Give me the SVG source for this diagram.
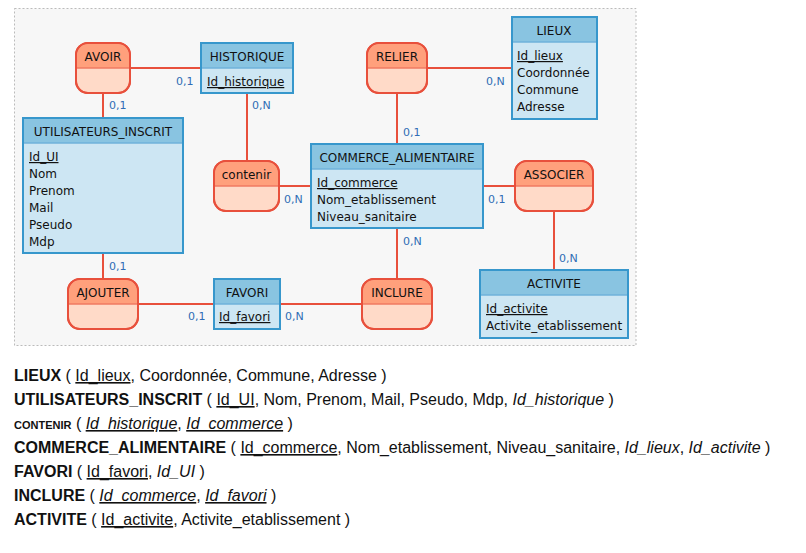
<svg xmlns="http://www.w3.org/2000/svg" width="806" height="553" viewBox="0 0 806 553">
<style>
.bg{fill:#f7f7f7;stroke:#bbbbbb;stroke-width:1;stroke-dasharray:2,2}
.ent{fill:#cde6f3;stroke:#3797cc;stroke-width:2}
.enth{fill:#89c4e1}
.entd{stroke:#6fb2da;stroke-width:1.5}
.asc{fill:#ffdac8;stroke:#e8503c;stroke-width:2}
.asch{fill:#ffa07c}
.ascd{stroke:#f07a62;stroke-width:1.5}
.lnk{stroke:#e8503c;stroke-width:2;fill:none}
.t{font-family:"DejaVu Sans",Verdana,sans-serif;font-size:12px;fill:#111}
.c{text-anchor:middle}
.card{font-family:"DejaVu Sans",Verdana,sans-serif;font-size:11px;fill:#2f6db5}
.u{text-decoration:underline}
.r{font-family:"Liberation Sans",Arial,sans-serif;font-size:16px;fill:#111}
.b{font-weight:bold}
.i{font-style:italic}
</style>
<rect class="bg" x="14.5" y="8.5" width="621.5" height="337"/>
<g id="connectors">
<line class="lnk" x1="130" y1="68" x2="201" y2="68"/>
<line class="lnk" x1="103" y1="93" x2="103" y2="118"/>
<line class="lnk" x1="247" y1="93" x2="247" y2="161"/>
<line class="lnk" x1="279" y1="186" x2="311" y2="186"/>
<line class="lnk" x1="427" y1="68" x2="512" y2="68"/>
<line class="lnk" x1="397" y1="93" x2="397" y2="144"/>
<line class="lnk" x1="483" y1="186" x2="515" y2="186"/>
<line class="lnk" x1="554" y1="211" x2="554" y2="270"/>
<line class="lnk" x1="397" y1="228" x2="397" y2="279"/>
<line class="lnk" x1="280" y1="304" x2="362" y2="304"/>
<line class="lnk" x1="138" y1="304" x2="214" y2="304"/>
<line class="lnk" x1="103" y1="253" x2="103" y2="279"/>
<text class="card" x="176" y="85">0,1</text>
<text class="card" x="109" y="109">0,1</text>
<text class="card" x="252" y="109">0,N</text>
<text class="card" x="284" y="203">0,N</text>
<text class="card" x="486" y="85">0,N</text>
<text class="card" x="403" y="136">0,1</text>
<text class="card" x="488" y="203">0,1</text>
<text class="card" x="559" y="262">0,N</text>
<text class="card" x="403" y="245">0,N</text>
<text class="card" x="285" y="320">0,N</text>
<text class="card" x="188" y="320">0,1</text>
<text class="card" x="109" y="270">0,1</text>
</g>
<g id="avoir">
<rect class="asc" x="76" y="43" width="54" height="50" rx="12"/>
<path class="asch" d="M77,68 V55 a11,11 0 0 1 11,-11 H118 a11,11 0 0 1 11,11 V68 Z"/>
<line class="ascd" x1="77" y1="68" x2="129" y2="68"/>
<rect x="76" y="43" width="54" height="50" rx="12" fill="none" stroke="#e8503c" stroke-width="2"/>
<text class="t c" x="103" y="61">AVOIR</text>
</g>
<g id="historique">
<rect class="ent" x="201" y="43" width="92" height="50"/>
<rect class="enth" x="202" y="44" width="90" height="24"/>
<line class="entd" x1="202" y1="68" x2="292" y2="68"/>
<text class="t c" x="247" y="61">HISTORIQUE</text>
<text class="t u" x="207" y="86">Id_historique</text>
</g>
<g id="utilisateurs_inscrit">
<rect class="ent" x="23" y="118" width="160" height="135"/>
<rect class="enth" x="24" y="119" width="158" height="24"/>
<line class="entd" x1="24" y1="143" x2="182" y2="143"/>
<text class="t c" x="103" y="136">UTILISATEURS_INSCRIT</text>
<text class="t u" x="29" y="161">Id_UI</text>
<text class="t" x="29" y="178">Nom</text>
<text class="t" x="29" y="195">Prenom</text>
<text class="t" x="29" y="212">Mail</text>
<text class="t" x="29" y="229">Pseudo</text>
<text class="t" x="29" y="246">Mdp</text>
</g>
<g id="contenir">
<rect class="asc" x="214" y="161" width="65" height="50" rx="12"/>
<path class="asch" d="M215,186 V173 a11,11 0 0 1 11,-11 H267 a11,11 0 0 1 11,11 V186 Z"/>
<line class="ascd" x1="215" y1="186" x2="278" y2="186"/>
<rect x="214" y="161" width="65" height="50" rx="12" fill="none" stroke="#e8503c" stroke-width="2"/>
<text class="t c" x="246.5" y="179">contenir</text>
</g>
<g id="relier">
<rect class="asc" x="367" y="43" width="60" height="50" rx="12"/>
<path class="asch" d="M368,68 V55 a11,11 0 0 1 11,-11 H415 a11,11 0 0 1 11,11 V68 Z"/>
<line class="ascd" x1="368" y1="68" x2="426" y2="68"/>
<rect x="367" y="43" width="60" height="50" rx="12" fill="none" stroke="#e8503c" stroke-width="2"/>
<text class="t c" x="397" y="61">RELIER</text>
</g>
<g id="lieux">
<rect class="ent" x="512" y="17" width="85" height="102"/>
<rect class="enth" x="513" y="18" width="83" height="24"/>
<line class="entd" x1="513" y1="42" x2="596" y2="42"/>
<text class="t c" x="554" y="35">LIEUX</text>
<text class="t u" x="517" y="60">Id_lieux</text>
<text class="t" x="517" y="77">Coordonnée</text>
<text class="t" x="517" y="94">Commune</text>
<text class="t" x="517" y="111">Adresse</text>
</g>
<g id="commerce_alimentaire">
<rect class="ent" x="311" y="144" width="172" height="84"/>
<rect class="enth" x="312" y="145" width="170" height="24"/>
<line class="entd" x1="312" y1="169" x2="482" y2="169"/>
<text class="t c" x="397" y="162">COMMERCE_ALIMENTAIRE</text>
<text class="t u" x="317" y="187">Id_commerce</text>
<text class="t" x="317" y="204">Nom_etablissement</text>
<text class="t" x="317" y="221">Niveau_sanitaire</text>
</g>
<g id="associer">
<rect class="asc" x="515" y="161" width="78" height="50" rx="12"/>
<path class="asch" d="M516,186 V173 a11,11 0 0 1 11,-11 H581 a11,11 0 0 1 11,11 V186 Z"/>
<line class="ascd" x1="516" y1="186" x2="592" y2="186"/>
<rect x="515" y="161" width="78" height="50" rx="12" fill="none" stroke="#e8503c" stroke-width="2"/>
<text class="t c" x="554" y="179">ASSOCIER</text>
</g>
<g id="activite">
<rect class="ent" x="480" y="270" width="148" height="68"/>
<rect class="enth" x="481" y="271" width="146" height="24"/>
<line class="entd" x1="481" y1="295" x2="627" y2="295"/>
<text class="t c" x="554" y="288">ACTIVITE</text>
<text class="t u" x="486" y="313">Id_activite</text>
<text class="t" x="486" y="330">Activite_etablissement</text>
</g>
<g id="inclure">
<rect class="asc" x="362" y="279" width="70" height="50" rx="12"/>
<path class="asch" d="M363,304 V291 a11,11 0 0 1 11,-11 H420 a11,11 0 0 1 11,11 V304 Z"/>
<line class="ascd" x1="363" y1="304" x2="431" y2="304"/>
<rect x="362" y="279" width="70" height="50" rx="12" fill="none" stroke="#e8503c" stroke-width="2"/>
<text class="t c" x="397" y="297">INCLURE</text>
</g>
<g id="favori">
<rect class="ent" x="214" y="279" width="66" height="50"/>
<rect class="enth" x="215" y="280" width="64" height="24"/>
<line class="entd" x1="215" y1="304" x2="279" y2="304"/>
<text class="t c" x="247" y="297">FAVORI</text>
<text class="t u" x="219" y="321">Id_favori</text>
</g>
<g id="ajouter">
<rect class="asc" x="68" y="279" width="70" height="50" rx="12"/>
<path class="asch" d="M69,304 V291 a11,11 0 0 1 11,-11 H126 a11,11 0 0 1 11,11 V304 Z"/>
<line class="ascd" x1="69" y1="304" x2="137" y2="304"/>
<rect x="68" y="279" width="70" height="50" rx="12" fill="none" stroke="#e8503c" stroke-width="2"/>
<text class="t c" x="103" y="297">AJOUTER</text>
</g>
<g id="schema">
<text class="r" x="14" y="381"><tspan class="b">LIEUX</tspan> ( <tspan class="u">Id_lieux</tspan>, Coordonnée, Commune, Adresse )</text>
<text class="r" x="14" y="405"><tspan class="b">UTILISATEURS_INSCRIT</tspan> ( <tspan class="u">Id_UI</tspan>, Nom, Prenom, Mail, Pseudo, Mdp, <tspan class="i">Id_historique</tspan> )</text>
<text class="r" x="14" y="429"><tspan class="b" font-size="11px">CONTENIR</tspan> ( <tspan class="u i">Id_historique</tspan>, <tspan class="u i">Id_commerce</tspan> )</text>
<text class="r" x="14" y="453"><tspan class="b">COMMERCE_ALIMENTAIRE</tspan> ( <tspan class="u">Id_commerce</tspan>, Nom_etablissement, Niveau_sanitaire, <tspan class="i">Id_lieux</tspan>, <tspan class="i">Id_activite</tspan> )</text>
<text class="r" x="14" y="477"><tspan class="b">FAVORI</tspan> ( <tspan class="u">Id_favori</tspan>, <tspan class="i">Id_UI</tspan> )</text>
<text class="r" x="14" y="501"><tspan class="b">INCLURE</tspan> ( <tspan class="u i">Id_commerce</tspan>, <tspan class="u i">Id_favori</tspan> )</text>
<text class="r" x="14" y="525"><tspan class="b">ACTIVITE</tspan> ( <tspan class="u">Id_activite</tspan>, Activite_etablissement )</text>
</g>
</svg>
